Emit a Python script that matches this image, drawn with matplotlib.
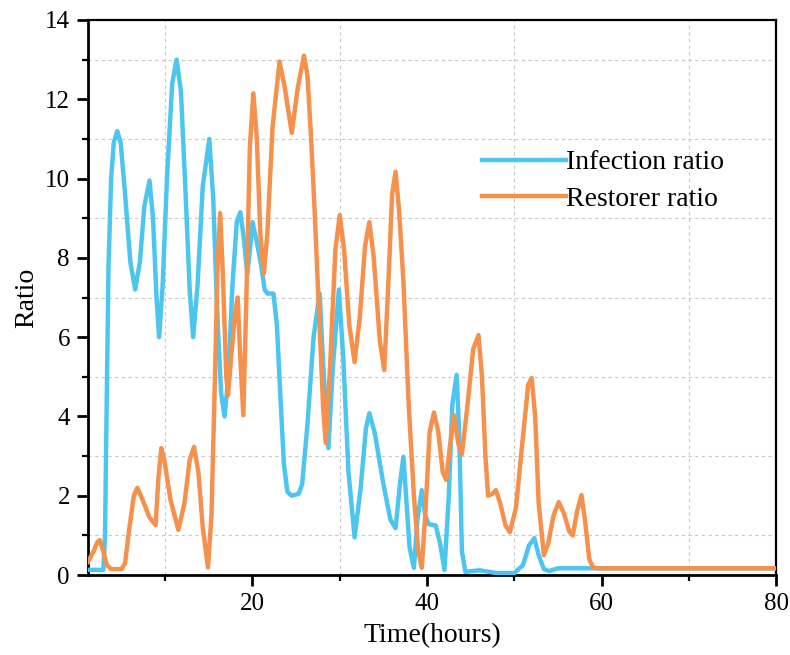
import matplotlib
matplotlib.use("Agg")
import matplotlib.pyplot as plt
from matplotlib.ticker import MultipleLocator

# values
infection_t = [1.15, 2.9, 3.1, 3.3, 3.5, 3.8, 4.1, 4.5, 4.9, 5.4, 6.0, 6.55, 7.1, 7.6, 8.2,
               8.6, 9.0, 9.3, 9.7, 10.2, 10.8, 11.3, 11.8, 12.3, 12.8, 13.2, 13.7, 14.3,
               15.05, 15.5, 16.0, 16.4, 16.8, 17.2, 17.7, 18.2, 18.6, 19.0, 19.4, 19.7,
               20.0, 20.5, 21.0, 21.4, 21.7, 22.4, 22.8, 23.2, 23.6, 24.0, 24.5, 25.3,
               25.7, 26.3, 27.0, 27.7, 28.1, 28.7, 29.2, 29.9, 30.4, 31.0, 31.7, 32.4,
               33.0, 33.4, 34.0, 35.0, 35.8, 36.4, 36.9, 37.3, 37.6, 38.0, 38.5, 38.9,
               39.4, 39.8, 40.2, 41.0, 41.5, 42.0, 42.5, 42.9, 43.4, 43.7, 44.0, 44.4,
               46.0, 48.0, 50.0, 51.0, 51.7, 52.3, 52.8, 53.4, 54.0, 55.0, 80.0]
infection_r = [0.13, 0.13, 1.0, 4.5, 7.8, 10.0, 10.9, 11.2, 10.9, 9.6, 7.9, 7.2, 7.9, 9.3, 9.95,
               9.0, 7.0, 6.0, 7.3, 10.0, 12.4, 13.0, 12.2, 9.8, 7.2, 6.0, 7.3, 9.8,
               11.0, 9.5, 6.4, 4.6, 4.0, 4.9, 7.3, 8.9, 9.15, 8.5, 7.6, 8.2,
               8.9, 8.4, 7.8, 7.2, 7.1, 7.1, 6.3, 4.5, 2.8, 2.1, 2.0, 2.05,
               2.3, 3.8, 6.0, 7.1, 5.3, 3.2, 5.2, 7.2, 5.5, 2.6, 0.95, 2.2,
               3.7, 4.08, 3.6, 2.3, 1.4, 1.18, 2.3, 2.98, 2.0, 0.7, 0.18, 1.4,
               2.14, 1.5, 1.28, 1.25, 0.8, 0.13, 2.0, 4.3, 5.05, 3.5, 0.6, 0.08,
               0.12, 0.05, 0.05, 0.25, 0.75, 0.93, 0.5, 0.15, 0.1, 0.17, 0.17]

restorer_t = [1.15, 1.8, 2.2, 2.5, 2.9, 3.3, 3.8, 5.0, 5.4, 5.9, 6.4, 6.8, 7.4, 8.2, 8.9,
              9.2, 9.55, 9.9, 10.6, 11.5, 12.2, 12.8, 13.3, 13.8, 14.3, 14.9, 15.3,
              15.7, 16.0, 16.3, 16.6, 17.0, 17.2, 17.6, 18.0, 18.3, 18.6, 18.95, 19.3,
              19.7, 20.1, 20.5, 20.9, 21.3, 21.7, 22.3, 23.1, 23.7, 24.5, 25.2, 25.9,
              26.3, 26.7, 27.1, 27.8, 28.1, 28.4, 28.9, 29.5, 30.0, 30.5, 31.1, 31.7,
              32.3, 32.9, 33.4, 33.9, 34.6, 35.1, 35.6, 36.0, 36.4, 36.8, 37.3, 37.9,
              38.5, 39.0, 39.4, 39.8, 40.3, 40.8, 41.3, 41.8, 42.2, 42.6, 43.1, 43.6,
              44.0, 44.6, 45.3, 45.9, 46.3, 46.7, 47.0, 47.5, 47.9, 48.4, 49.0, 49.5,
              50.2, 51.0, 51.6, 52.0, 52.4, 52.8, 53.4, 53.9, 54.5, 55.1, 55.7, 56.3,
              56.7, 57.2, 57.7, 58.1, 58.6, 59.0, 59.5, 80.0]
restorer_r = [0.33, 0.6, 0.82, 0.88, 0.6, 0.25, 0.15, 0.15, 0.3, 1.2, 2.0, 2.2, 1.9, 1.45, 1.26,
              2.4, 3.2, 2.9, 1.9, 1.14, 1.8, 2.9, 3.23, 2.6, 1.2, 0.19, 1.5,
              5.0, 7.8, 9.13, 7.6, 5.0, 4.54, 5.6, 6.6, 7.0, 5.5, 4.03, 7.0,
              10.8, 12.15, 11.0, 8.6, 7.6, 8.6, 11.3, 12.95, 12.3, 11.15, 12.3, 13.1,
              12.6, 11.1, 9.3, 5.75, 4.2, 3.33, 5.3, 8.2, 9.08, 8.2, 6.3, 5.37,
              6.5, 8.3, 8.9, 8.0, 5.9, 5.17, 7.5, 9.6, 10.17, 9.2, 7.4, 4.3,
              2.0, 0.6, 0.18, 1.5, 3.6, 4.1, 3.6, 2.6, 2.4, 3.2, 4.03, 3.3,
              3.05, 4.2, 5.7, 6.05, 5.0, 3.0, 2.0, 2.05, 2.14, 1.8, 1.25, 1.08,
              1.7, 3.5, 4.8, 4.97, 4.0, 1.8, 0.5, 0.8, 1.5, 1.84, 1.55, 1.1,
              1.0, 1.6, 2.02, 1.4, 0.4, 0.2, 0.17, 0.17]

x_major = [20, 40, 60, 80]

plt.rcParams['font.family'] = ['Liberation Serif', 'DejaVu Serif']

fig = plt.figure(figsize=(7.9, 6.55), dpi=100)
ax = fig.add_axes([0.1114, 0.1221, 0.8709, 0.8474])

ax.plot(infection_t, infection_r, color='#4cc6ef', lw=3.2, label='Infection ratio',
        solid_joinstyle='round', zorder=3)
ax.plot(restorer_t, restorer_r, color='#f5914c', lw=3.2, label='Restorer ratio',
        solid_joinstyle='round', zorder=3)

ax.set_xlim(1.15, 80)
ax.set_ylim(0, 14)
ax.set_xticks(x_major)
ax.xaxis.set_minor_locator(MultipleLocator(10))
ax.yaxis.set_major_locator(MultipleLocator(2))
ax.yaxis.set_minor_locator(MultipleLocator(1))

# Origin style: grid only on the minor ticks
ax.grid(which='minor', ls=(0, (3, 3)), color='#c8c8c8', lw=0.8)
ax.set_axisbelow(True)

for side in ['left', 'bottom']:
    ax.spines[side].set_linewidth(2.0)
for side in ['top', 'right']:
    ax.spines[side].set_linewidth(1.6)

ax.tick_params(which='major', direction='out', length=8, width=2, labelsize=18, pad=5)
ax.tick_params(which='minor', direction='out', length=4, width=1.6)

ax.set_xlabel('Time(hours)', fontsize=20, labelpad=6)
ax.set_ylabel('Ratio', fontsize=20, labelpad=4)

ax.legend(loc='upper left', bbox_to_anchor=(0.573, 0.766), frameon=False, fontsize=20,
          handlelength=3.0, handletextpad=0.0, borderpad=0, borderaxespad=0,
          labelspacing=0.4)

fig.savefig('out.png', dpi=100)
